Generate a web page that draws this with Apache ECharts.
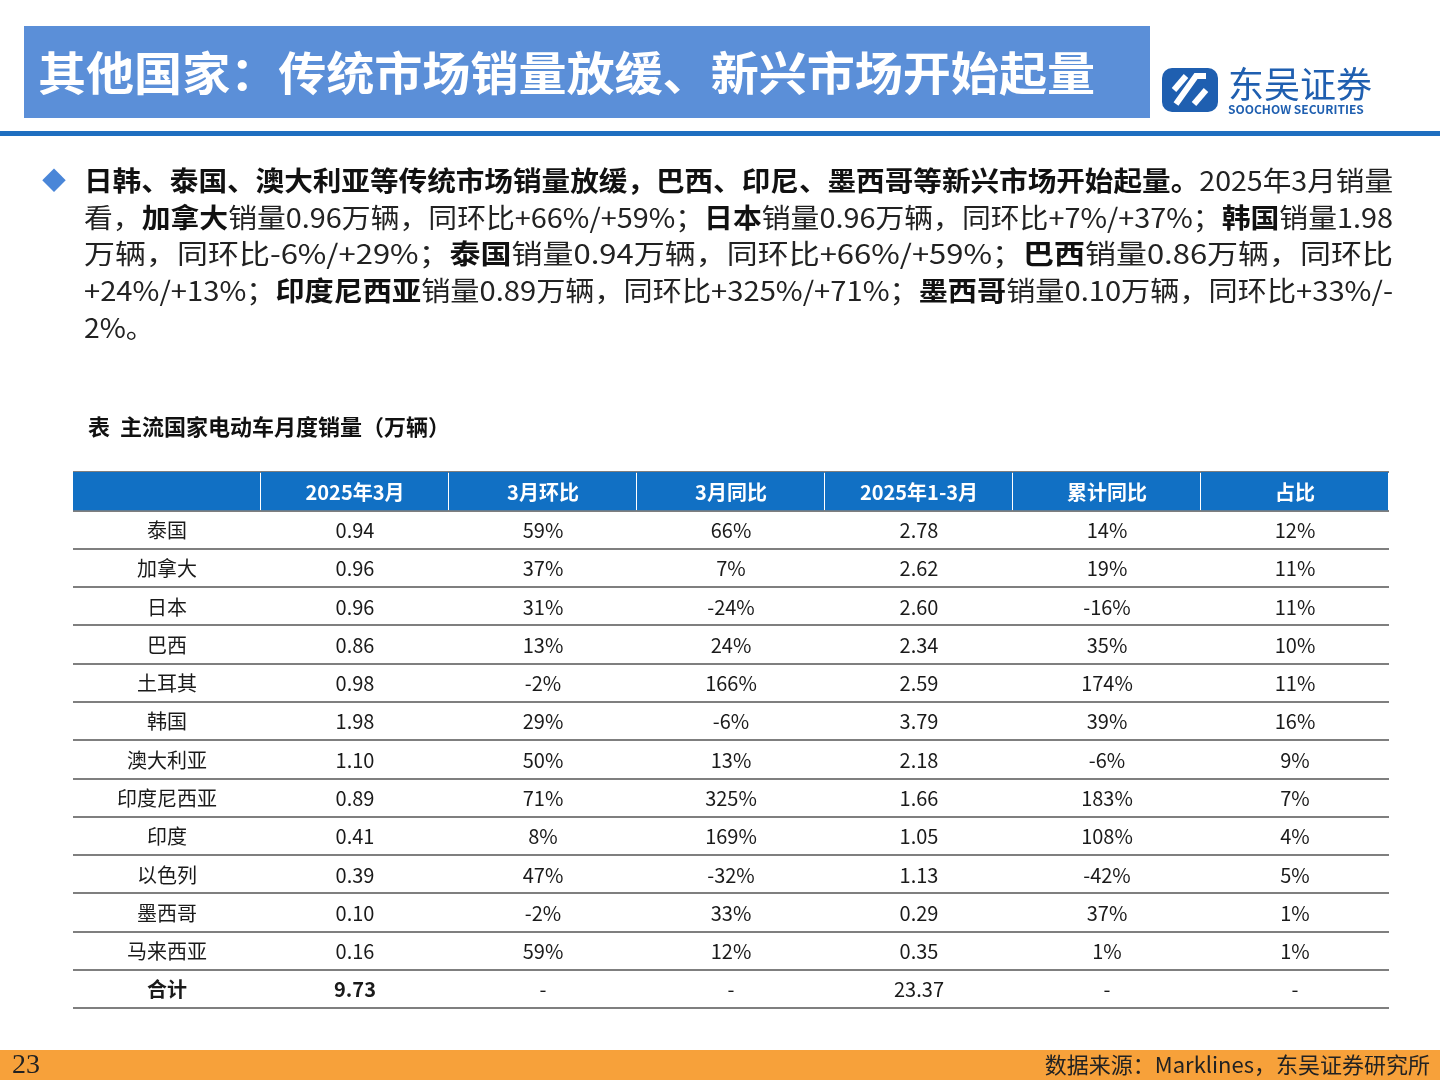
<!DOCTYPE html>
<html><head><meta charset="utf-8">
<script src="https://cdn.jsdelivr.net/npm/echarts@6/dist/echarts.min.js"></script>
<style>html,body{margin:0;padding:0;background:#fff}#c{width:1440px;height:1080px}</style>
</head><body><div id="c"></div>
<script>
// 表头与数据
const headers = ['', '2025年3月', '3月环比', '3月同比', '2025年1-3月', '累计同比', '占比'];
const countries = ['泰国','加拿大','日本','巴西','土耳其','韩国','澳大利亚','印度尼西亚','印度','以色列','墨西哥','马来西亚','合计'];
const mar2025 = ['0.94','0.96','0.96','0.86','0.98','1.98','1.10','0.89','0.41','0.39','0.10','0.16','9.73'];
const mom = ['59%','37%','31%','13%','-2%','29%','50%','71%','8%','47%','-2%','59%','-'];
const yoy = ['66%','7%','-24%','24%','166%','-6%','13%','325%','169%','-32%','33%','12%','-'];
const ytd = ['2.78','2.62','2.60','2.34','2.59','3.79','2.18','1.66','1.05','1.13','0.29','0.35','23.37'];
const ytdYoy = ['14%','19%','-16%','35%','174%','39%','-6%','183%','108%','-42%','37%','1%','-'];
const share = ['12%','11%','11%','10%','11%','16%','9%','7%','4%','5%','1%','1%','-'];

const FONT = '"Noto Sans CJK SC","Noto Sans",sans-serif';
const rowNames = ['header'].concat(countries);
const cols = [countries, mar2025, mom, yoy, ytd, ytdYoy, share];

const cells = [];
headers.forEach((h, c) => cells.push([c, 0, h, 1, 1]));
countries.forEach((_, r) => {
  cols.forEach((arr, c) => {
    const isTotal = r === countries.length - 1;
    cells.push([c, r + 1, arr[r], (isTotal && c < 2) ? 1 : 0, 0]);
  });
});

const paraLines = [
  [['b','日韩、泰国、澳大利亚等传统市场销量放缓，巴西、印尼、墨西哥等新兴市场开始起量。'],['n','2025年3月销量']],
  [['n','看，'],['b','加拿大'],['n','销量0.96万辆，同环比+66%/+59%；'],['b','日本'],['n','销量0.96万辆，同环比+7%/+37%；'],['b','韩国'],['n','销量1.98']],
  [['n','万辆，同环比-6%/+29%；'],['b','泰国'],['n','销量0.94万辆，同环比+66%/+59%；'],['b','巴西'],['n','销量0.86万辆，同环比']],
  [['n','+24%/+13%；'],['b','印度尼西亚'],['n','销量0.89万辆，同环比+325%/+71%；'],['b','墨西哥'],['n','销量0.10万辆，同环比+33%/-']],
  [['n','2%。']]
];

// 测量文本宽度，用于两端对齐的横向缩放
const ctx = document.createElement('canvas').getContext('2d');
function measure(segs) {
  let w = 0;
  segs.forEach(s => { ctx.font = (s[0] === 'b' ? 'bold ' : '') + '27px ' + FONT; w += ctx.measureText(s[1]).width; });
  return w;
}
ctx.font = 'bold 46px ' + FONT;
const titleText = '其他国家：传统市场销量放缓、新兴市场开始起量';
const titleScale = 1057 / ctx.measureText(titleText).width;

const graphics = [
  {type:'rect', shape:{x:24,y:26,width:1126,height:92}, style:{fill:'#5b8fd8'}},
  {type:'text', x:38, y:73, scaleX:titleScale, style:{text:titleText, fill:'#fff', font:'bold 46px '+FONT, verticalAlign:'middle'}},
  {type:'rect', shape:{x:0,y:131,width:1440,height:5}, style:{fill:'#1f6fc0'}},
  {type:'rect', shape:{x:1162,y:68,width:56,height:44,r:10}, style:{fill:'#1f5fb0'}},
  {type:'polyline', shape:{points:[[1176,104],[1196,76],[1206,76]]}, style:{stroke:'#fff',lineWidth:6,fill:null}},
  {type:'polyline', shape:{points:[[1174,90],[1186,76]]}, style:{stroke:'#fff',lineWidth:6,fill:null}},
  {type:'polyline', shape:{points:[[1194,104],[1206,90]]}, style:{stroke:'#fff',lineWidth:6,fill:null}},
  {type:'text', x:1228, y:84, style:{text:'东吴证券', fill:'#1f5fb0', font:'36px '+FONT, verticalAlign:'middle'}},
  {type:'text', x:1228, y:109, style:{text:'SOOCHOW SECURITIES', fill:'#1f5fb0', font:'bold 12px '+FONT, verticalAlign:'middle'}},
  {type:'text', x:42, y:180, style:{text:'◆', fill:'#4a86d8', font:'24px '+FONT, verticalAlign:'middle'}},
  {type:'text', x:88, y:427, style:{text:'表  主流国家电动车月度销量（万辆）', fill:'#111', font:'bold 22px '+FONT, verticalAlign:'middle'}},
  {type:'rect', shape:{x:0,y:1050,width:1440,height:30}, style:{fill:'#f7a13a'}},
  {type:'text', x:12, y:1066, style:{text:'23', fill:'#222', font:'28px "Liberation Serif",serif', verticalAlign:'middle'}},
  {type:'text', x:1430, y:1065, style:{text:'数据来源：Marklines，东吴证券研究所', fill:'#222', font:'22px '+FONT, align:'right', verticalAlign:'middle'}}
];
paraLines.forEach((segs, i) => {
  const last = i === paraLines.length - 1;
  graphics.push({type:'text', x:84, y:181 + i * 36.6, scaleX: last ? 1.05 : 1309 / measure(segs), style:{
    text: segs.map(s => '{' + s[0] + '|' + s[1] + '}').join(''),
    verticalAlign:'middle',
    rich:{
      b:{font:'bold 27px '+FONT, fill:'#111'},
      n:{font:'27px '+FONT, fill:'#222'}
    }
  }});
});

const chart = echarts.init(document.getElementById('c'));
chart.setOption({
  animation:false,
  graphic: graphics,
  grid:{left:73, top:472, width:1316, height:536},
  xAxis:{type:'category', data:headers, show:false},
  yAxis:{type:'category', data:rowNames, inverse:true,
    axisLabel:{show:false}, axisTick:{show:false}, axisLine:{show:false},
    splitLine:{show:true, lineStyle:{color:'#555', width:1.5}}},
  series:[{
    type:'custom',
    data:cells,
    encode:{x:0, y:1},
    renderItem:(params, api) => {
      const p = api.coord([api.value(0), api.value(1)]);
      const s = api.size([1, 1]);
      const d = cells[params.dataIndex];
      const children = [];
      if (d[4]) children.push({type:'rect', shape:{x:p[0]-s[0]/2, y:p[1]-s[1]/2, width:s[0]-1, height:s[1]}, style:{fill:'#1170c4'}});
      children.push({type:'text', style:{text:d[2], x:p[0], y:p[1]+1, align:'center', verticalAlign:'middle',
        fill: d[4] ? '#fff' : '#1a1a1a', fontSize:20, fontWeight: d[3] ? 'bold' : 'normal', fontFamily:FONT}});
      return {type:'group', children};
    }
  }]
});
</script></body></html>
